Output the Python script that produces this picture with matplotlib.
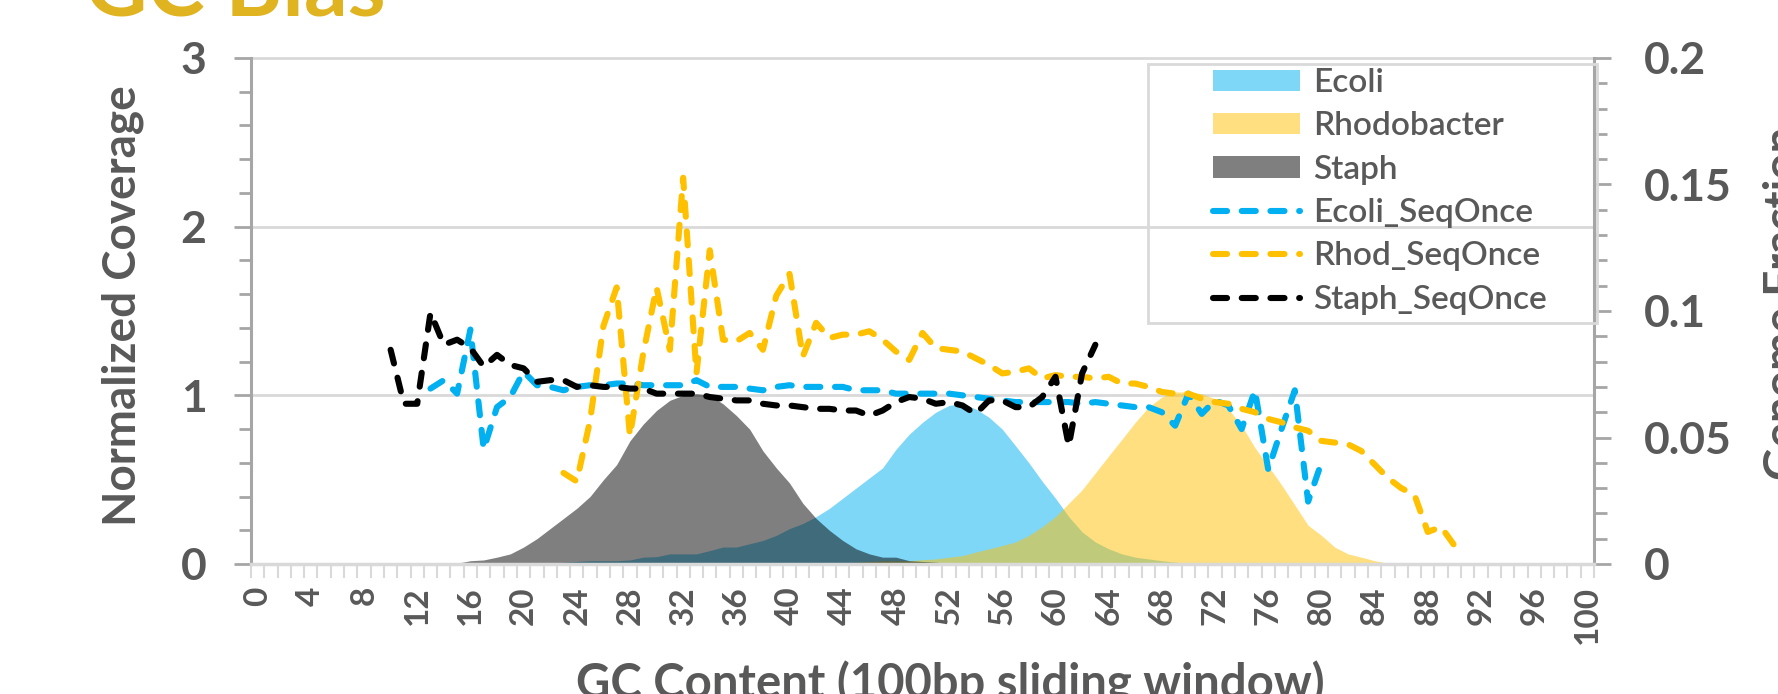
import numpy as np
import matplotlib.pyplot as plt
from matplotlib.patches import Rectangle

plt.rcParams['font.family'] = ['Lato', 'DejaVu Sans']

gc = np.arange(0, 101)
x_labels = [str(v) for v in range(0, 101, 4)]
y_left_ticks = [0, 1, 2, 3]
y_right_ticks = [0, 0.05, 0.1, 0.15, 0.2]
y_right_labels = ['0', '0.05', '0.1', '0.15', '0.2']

# genome fraction (right axis), first GC value + values
ecoli_start = 22
ecoli_frac = [0.0003, 0.0007, 0.001, 0.0013, 0.0013, 0.0013, 0.0016, 0.0027, 0.0029, 0.004,
              0.004, 0.004, 0.0053, 0.0067, 0.0067, 0.008, 0.0093, 0.0113, 0.014, 0.016,
              0.0187, 0.022, 0.026, 0.03, 0.034, 0.038, 0.0453, 0.0513, 0.056, 0.06,
              0.0627, 0.0633, 0.0613, 0.058, 0.0533, 0.0467, 0.04, 0.0327, 0.026, 0.0187,
              0.0127, 0.0087, 0.006, 0.004, 0.0027, 0.002, 0.0013, 0.0007, 0.0003]
rhod_start = 44
rhod_frac = [0.0003, 0.0007, 0.001, 0.0013, 0.0013, 0.0013, 0.0017, 0.002, 0.0027, 0.0033,
             0.0047, 0.006, 0.0073, 0.0087, 0.0113, 0.0147, 0.0187, 0.024, 0.0293, 0.036,
             0.0427, 0.0493, 0.056, 0.062, 0.066, 0.068, 0.068, 0.0673, 0.0653, 0.0613,
             0.0547, 0.046, 0.0387, 0.0313, 0.0233, 0.0153, 0.0113, 0.0067, 0.004, 0.0027,
             0.0013, 0.0003]
staph_start = 15
staph_frac = [0.0003, 0.0013, 0.0016, 0.0027, 0.004, 0.0067, 0.01, 0.014, 0.018, 0.022,
              0.0267, 0.0333, 0.0393, 0.0487, 0.0553, 0.0607, 0.0647, 0.0667, 0.0673, 0.0667,
              0.0633, 0.0587, 0.0533, 0.0447, 0.038, 0.032, 0.024, 0.018, 0.0133, 0.0093,
              0.006, 0.004, 0.0027, 0.0027, 0.0013, 0.001, 0.0007, 0.0003]

# normalized coverage (left axis)
ecoli_seq_start = 13
ecoli_seq = [1.04, 1.09, 1.01, 1.39, 0.68, 0.93, 0.99, 1.14, 1.06, 1.05,
             1.03, 1.05, 1.06, 1.06, 1.07, 1.07, 1.06, 1.06, 1.06, 1.06,
             1.09, 1.05, 1.05, 1.05, 1.04, 1.03, 1.05, 1.06, 1.05, 1.05,
             1.05, 1.05, 1.03, 1.03, 1.03, 1.01, 1.01, 1.01, 1.01, 1.01,
             1.00, 0.99, 0.98, 0.97, 0.96, 0.96, 0.96, 0.96, 0.96, 0.95,
             0.96, 0.95, 0.94, 0.93, 0.93, 0.90, 0.82, 1.01, 0.89, 0.97,
             0.94, 0.80, 1.03, 0.56, 0.80, 1.03, 0.37, 0.60]
rhod_seq_start = 23
rhod_seq = [0.54, 0.49, 0.85, 1.41, 1.64, 0.76, 1.25, 1.64, 1.27, 2.29,
            1.13, 1.86, 1.33, 1.32, 1.37, 1.27, 1.59, 1.72, 1.23, 1.43,
            1.34, 1.36, 1.36, 1.38, 1.33, 1.26, 1.21, 1.37, 1.28, 1.27,
            1.26, 1.22, 1.18, 1.13, 1.14, 1.16, 1.10, 1.12, 1.11, 1.11,
            1.10, 1.11, 1.07, 1.07, 1.05, 1.02, 1.01, 1.01, 0.98, 0.96,
            0.95, 0.92, 0.90, 0.86, 0.84, 0.81, 0.79, 0.73, 0.72, 0.71,
            0.67, 0.59, 0.51, 0.45, 0.41, 0.19, 0.22, 0.11]
staph_seq_start = 10
staph_seq = [1.27, 0.95, 0.95, 1.49, 1.30, 1.33, 1.28, 1.17, 1.24, 1.18,
             1.16, 1.08, 1.09, 1.09, 1.05, 1.06, 1.05, 1.05, 1.04, 1.04,
             1.01, 1.01, 1.01, 1.01, 0.99, 0.98, 0.97, 0.97, 0.95, 0.94,
             0.94, 0.93, 0.92, 0.92, 0.91, 0.91, 0.88, 0.91, 0.96, 0.99,
             0.98, 0.95, 0.96, 0.94, 0.89, 0.97, 0.97, 0.93, 0.93, 0.99,
             1.11, 0.70, 1.13, 1.30]

W, H = 1778, 694
fig = plt.figure(figsize=(W / 100, H / 100), dpi=100)
ax = fig.add_axes([251 / W, 130 / H, 1343 / W, 506 / H])
ax2 = ax.twinx()
ax.set_zorder(ax2.get_zorder() + 1)
ax.patch.set_visible(False)

cov_max, frac_max = 3, 0.2
grey, light = '#A6A6A6', '#D9D9D9'
txt = '#595959'


def pad(start, vals):
    y = np.zeros(len(gc))
    y[start:start + len(vals)] = vals
    return y


areas = [
    ax2.fill_between(gc, 0, pad(ecoli_start, ecoli_frac), color='#00B0F0', alpha=0.5, lw=0),
    ax2.fill_between(gc, 0, pad(rhod_start, rhod_frac), color='#FFC000', alpha=0.5, lw=0),
    ax2.fill_between(gc, 0, pad(staph_start, staph_frac), color='black', alpha=0.5, lw=0),
]
for t in y_left_ticks[1:]:
    ax2.axhline(t * frac_max / cov_max, color=light, lw=2, zorder=0, clip_on=False)

dash = (0, (2.3, 2.4))
lines = []
for start, vals, col in [(ecoli_seq_start, ecoli_seq, '#00B0F0'),
                         (rhod_seq_start, rhod_seq, '#FFC000'),
                         (staph_seq_start, staph_seq, 'black')]:
    l, = ax.plot(np.arange(start, start + len(vals)), vals, color=col, lw=4.4, ls=dash,
                 dash_capstyle='round', dash_joinstyle='round')
    lines.append(l)

ax.set_xlim(-0.5, 100.5)
ax.set_ylim(0, cov_max)
ax2.set_ylim(0, frac_max)

ax.set_xticks(range(0, 101, 4))
ax.set_xticklabels(x_labels, rotation=90, fontsize=24, fontweight='bold', color=txt)
ax.set_xticks(np.arange(-0.5, 101, 1), minor=True)
ax.tick_params(axis='x', which='major', length=0, pad=16)
ax.tick_params(axis='x', which='minor', length=10, width=1.5, color=light)

ax.set_yticks(y_left_ticks)
ax.set_yticklabels([str(t) for t in y_left_ticks], fontsize=32, fontweight='bold', color=txt)
ax.set_yticks(np.arange(0, 3.01, 0.2), minor=True)
ax.tick_params(axis='y', which='major', length=12, width=2, color=grey, pad=20)
ax.tick_params(axis='y', which='minor', length=9, width=2, color=grey)

ax2.set_yticks(y_right_ticks)
ax2.set_yticklabels(y_right_labels, fontsize=32, fontweight='bold', color=txt)
ax2.set_yticks(np.arange(0, 0.201, 0.01), minor=True)
ax2.tick_params(axis='y', which='major', length=12, width=2, color=grey, pad=24)
ax2.tick_params(axis='y', which='minor', length=9, width=2, color=grey)

for s in ['top', 'right']:
    ax.spines[s].set_visible(False)
for s in ['top', 'left', 'bottom']:
    ax2.spines[s].set_visible(False)
ax.spines['left'].set_color(grey)
ax.spines['left'].set_linewidth(2.2)
ax.spines['bottom'].set_color(light)
ax.spines['bottom'].set_linewidth(2.5)
ax2.spines['right'].set_color(grey)
ax2.spines['right'].set_linewidth(2.2)

fig.text(102 / W, 1 - 306 / H, 'Normalized Coverage', rotation=90, ha='left', va='center',
         fontsize=33, fontweight='bold', color=txt)
fig.text(1763 / W, 1 - 303 / H, 'Genome Fraction', rotation=90, ha='left', va='center',
         fontsize=33, fontweight='bold', color=txt)
fig.text(950 / W, 1 - 661 / H, 'GC Content (100bp sliding window)', ha='center', va='top',
         fontsize=34, fontweight='bold', color=txt)
fig.text(85 / W, 1 - 15 / H, 'GC Bias', ha='left', va='baseline',
         fontsize=62, fontweight='bold', color='#E0B320')

labels = ['Ecoli', 'Rhodobacter', 'Staph', 'Ecoli_SeqOnce', 'Rhod_SeqOnce', 'Staph_SeqOnce']
leg = ax.legend(areas + lines, labels, loc='upper left', bbox_to_anchor=(1213 / W, 1 - 68 / H),
                bbox_transform=fig.transFigure, frameon=False, borderpad=0, borderaxespad=0,
                fontsize=24, handlelength=2.6, handleheight=0.6, handletextpad=0.4,
                labelspacing=0.4, labelcolor=txt)
for t in leg.get_texts():
    t.set_fontweight('semibold')
fig.patches.append(Rectangle((1148 / W, 1 - 323 / H), 449 / W, 259 / H, transform=fig.transFigure,
                             fill=False, ec=light, lw=2))

fig.savefig('out.png', dpi=100)
